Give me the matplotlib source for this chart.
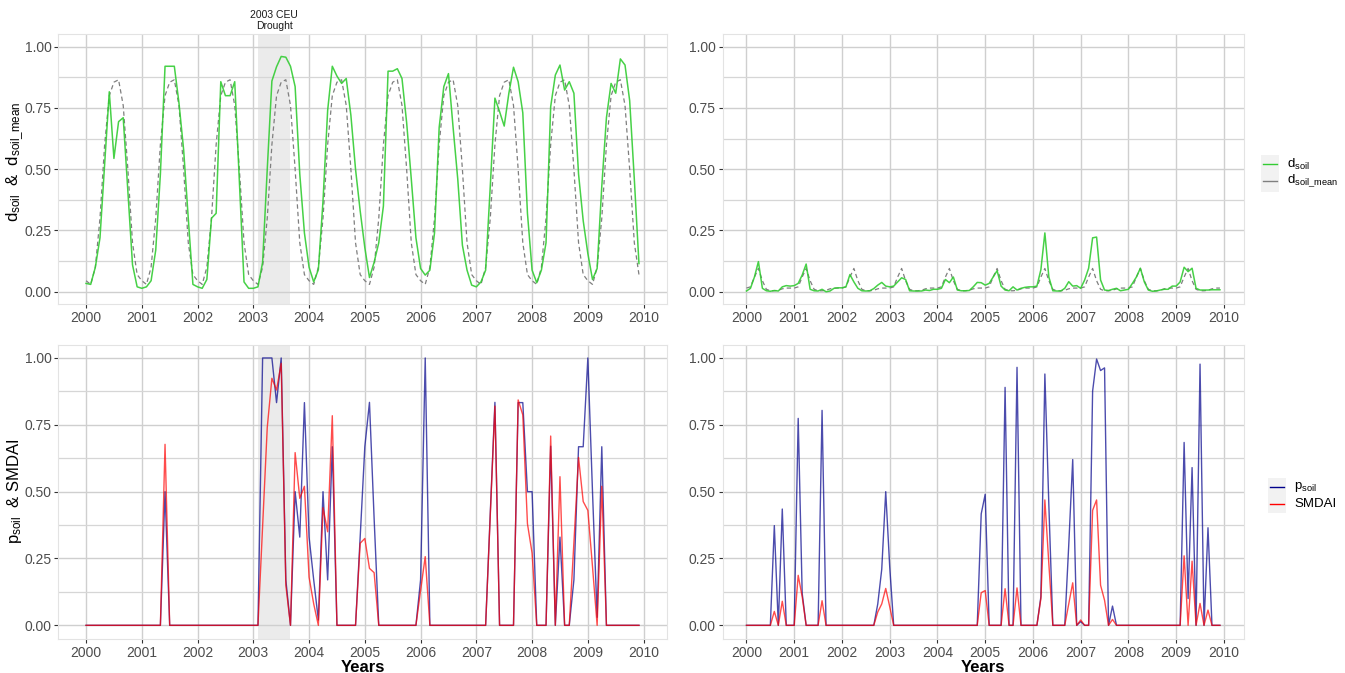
import numpy as np
import matplotlib
matplotlib.use('Agg')
import matplotlib.pyplot as plt
from matplotlib.lines import Line2D
from matplotlib.patches import Rectangle

plt.rcParams['font.family'] = ['Liberation Sans', 'DejaVu Sans']
plt.rcParams['mathtext.fontset'] = 'custom'
plt.rcParams['mathtext.rm'] = 'Liberation Sans'
plt.rcParams['mathtext.it'] = 'Liberation Sans:italic'

# ---- data: monthly values Jan 2000 .. Dec 2009 ----
year_ticks = list(range(2000, 2011))
drought_start, drought_end = 2003 + 1 / 12, 2003 + 8 / 12

# site 1 (left column)
d_soil_left = [
    0.034, 0.03, 0.10, 0.22, 0.52, 0.816, 0.544, 0.694, 0.71, 0.41, 0.11, 0.02,
    0.014, 0.02, 0.045, 0.17, 0.48, 0.92, 0.92, 0.92, 0.77, 0.58, 0.30, 0.03,
    0.02, 0.014, 0.05, 0.30, 0.32, 0.857, 0.80, 0.80, 0.857, 0.45, 0.04, 0.014,
    0.014, 0.02, 0.12, 0.50, 0.86, 0.918, 0.96, 0.957, 0.92, 0.837, 0.48, 0.24,
    0.10, 0.04, 0.09, 0.37, 0.74, 0.92, 0.88, 0.85, 0.87, 0.72, 0.50, 0.33,
    0.18, 0.058, 0.12, 0.20, 0.35, 0.90, 0.90, 0.91, 0.87, 0.69, 0.46, 0.22,
    0.095, 0.068, 0.088, 0.24, 0.67, 0.837, 0.89, 0.67, 0.46, 0.19, 0.088, 0.027,
    0.02, 0.04, 0.088, 0.43, 0.79, 0.735, 0.676, 0.81, 0.916, 0.857, 0.73, 0.32,
    0.088, 0.037, 0.088, 0.20, 0.755, 0.884, 0.925, 0.823, 0.857, 0.81, 0.48, 0.29,
    0.156, 0.05, 0.095, 0.43, 0.71, 0.85, 0.81, 0.95, 0.925, 0.78, 0.46, 0.115,
]
# monthly climatology (same every year)
d_soil_mean_left_month = [0.045, 0.03, 0.10, 0.30, 0.60, 0.80, 0.855, 0.865, 0.76, 0.50, 0.20, 0.07]

p_soil_left = [
    0, 0, 0, 0, 0, 0, 0, 0, 0, 0, 0, 0,
    0, 0, 0, 0, 0, 0.5, 0, 0, 0, 0, 0, 0,
    0, 0, 0, 0, 0, 0, 0, 0, 0, 0, 0, 0,
    0, 0, 1.0, 1.0, 1.0, 0.833, 1.0, 0.17, 0, 0.5, 0.33, 0.833,
    0.33, 0.17, 0.02, 0.5, 0.17, 0.668, 0, 0, 0, 0, 0, 0.33,
    0.668, 0.834, 0.4, 0, 0, 0, 0, 0, 0, 0, 0, 0,
    0.17, 1.0, 0, 0, 0, 0, 0, 0, 0, 0, 0, 0,
    0, 0, 0, 0.42, 0.834, 0, 0, 0, 0, 0.833, 0.833, 0.5,
    0.5, 0, 0, 0, 0.67, 0, 0.33, 0, 0, 0.17, 0.668, 0.668,
    1.0, 0.5, 0.03, 0.668, 0, 0, 0, 0, 0, 0, 0, 0,
]
smdai_left = [
    0, 0, 0, 0, 0, 0, 0, 0, 0, 0, 0, 0,
    0, 0, 0, 0, 0, 0.677, 0, 0, 0, 0, 0, 0,
    0, 0, 0, 0, 0, 0, 0, 0, 0, 0, 0, 0,
    0, 0, 0.37, 0.74, 0.924, 0.88, 0.98, 0.15, 0, 0.646, 0.475, 0.52,
    0.18, 0.08, 0, 0.44, 0.35, 0.784, 0, 0, 0, 0, 0, 0.307,
    0.325, 0.213, 0.197, 0, 0, 0, 0, 0, 0, 0, 0, 0,
    0.13, 0.257, 0, 0, 0, 0, 0, 0, 0, 0, 0, 0,
    0, 0, 0, 0.41, 0.82, 0, 0, 0, 0, 0.843, 0.787, 0.38,
    0.27, 0, 0, 0, 0.708, 0, 0.556, 0, 0, 0.31, 0.628, 0.463,
    0.43, 0.22, 0, 0.52, 0, 0, 0, 0, 0, 0, 0, 0,
]

# site 2 (right column)
d_soil_right = [
    0.003, 0.014, 0.06, 0.123, 0.014, 0.004, 0.002, 0.005, 0.003, 0.02, 0.025, 0.023,
    0.025, 0.034, 0.068, 0.113, 0.01, 0.004, 0.003, 0.01, 0.0, 0.003, 0.014, 0.016,
    0.016, 0.02, 0.07, 0.04, 0.014, 0.004, 0.003, 0.004, 0.013, 0.027, 0.038, 0.023,
    0.02, 0.023, 0.04, 0.057, 0.05, 0.004, 0.003, 0.003, 0.003, 0.007, 0.005, 0.01,
    0.01, 0.014, 0.05, 0.037, 0.06, 0.007, 0.004, 0.004, 0.005, 0.02, 0.038, 0.037,
    0.027, 0.034, 0.06, 0.086, 0.023, 0.007, 0.004, 0.02, 0.007, 0.014, 0.018, 0.02,
    0.02, 0.023, 0.09, 0.24, 0.06, 0.004, 0.003, 0.003, 0.014, 0.041, 0.023, 0.025,
    0.014, 0.048, 0.096, 0.22, 0.223, 0.048, 0.007, 0.005, 0.01, 0.014, 0.004, 0.007,
    0.01, 0.034, 0.06, 0.096, 0.04, 0.007, 0.002, 0.003, 0.007, 0.01, 0.01, 0.023,
    0.023, 0.04, 0.1, 0.082, 0.096, 0.014, 0.007, 0.007, 0.007, 0.008, 0.008, 0.008,
]
d_soil_mean_right_month = [0.015, 0.02, 0.06, 0.095, 0.045, 0.01, 0.004, 0.004, 0.006, 0.012, 0.015, 0.015]

p_soil_right = [
    0, 0, 0, 0, 0, 0, 0, 0.373, 0, 0.435, 0, 0,
    0, 0.774, 0.12, 0, 0, 0, 0, 0.804, 0, 0, 0, 0,
    0, 0, 0, 0, 0, 0, 0, 0, 0, 0.08, 0.21, 0.5,
    0.22, 0, 0, 0, 0, 0, 0, 0, 0, 0, 0, 0,
    0, 0, 0, 0, 0, 0, 0, 0, 0, 0, 0, 0.417,
    0.49, 0, 0, 0, 0, 0.89, 0, 0, 0.965, 0, 0, 0,
    0, 0, 0.107, 0.94, 0.45, 0, 0, 0, 0, 0.3, 0.62, 0,
    0.014, 0, 0, 0.876, 0.996, 0.953, 0.963, 0, 0.072, 0, 0, 0,
    0, 0, 0, 0, 0, 0, 0, 0, 0, 0, 0, 0,
    0, 0, 0.684, 0.1, 0.59, 0, 0.977, 0, 0.365, 0, 0, 0,
]
smdai_right = [
    0, 0, 0, 0, 0, 0, 0, 0.052, 0, 0.09, 0, 0,
    0, 0.187, 0.107, 0, 0, 0, 0, 0.092, 0, 0, 0, 0,
    0, 0, 0, 0, 0, 0, 0, 0, 0, 0.05, 0.08, 0.138,
    0.07, 0, 0, 0, 0, 0, 0, 0, 0, 0, 0, 0,
    0, 0, 0, 0, 0, 0, 0, 0, 0, 0, 0, 0.122,
    0.13, 0, 0, 0, 0, 0.137, 0, 0, 0.14, 0, 0, 0,
    0, 0, 0.1, 0.469, 0.23, 0, 0, 0, 0, 0.08, 0.159, 0,
    0.02, 0, 0, 0.43, 0.469, 0.15, 0.094, 0, 0.022, 0, 0, 0,
    0, 0, 0, 0, 0, 0, 0, 0, 0, 0, 0, 0,
    0, 0, 0.26, 0, 0.24, 0, 0.082, 0, 0.057, 0, 0, 0,
]

t = 2000 + np.arange(len(d_soil_left)) / 12
n_years = len(t) // 12
d_soil_mean_left = np.tile(d_soil_mean_left_month, n_years)
d_soil_mean_right = np.tile(d_soil_mean_right_month, n_years)

GREEN = '#33CC33'
GREY = '#7F7F7F'
BLUE = '#00008B'
RED = '#FF0000'

W, H = 1345, 673
fig = plt.figure(figsize=(W / 100, H / 100), dpi=100)


def px_rect(left, top, right, bottom):
    return [left / W, 1 - bottom / H, (right - left) / W, (bottom - top) / H]


def style_axis(ax):
    span = t[-1] - t[0]
    ax.set_xlim(t[0] - 0.05 * span, t[-1] + 0.05 * span)
    ax.set_ylim(-0.05, 1.05)
    ax.set_xticks(year_ticks)
    ax.set_yticks([0, 0.25, 0.5, 0.75, 1.0])
    ax.set_yticklabels(['0.00', '0.25', '0.50', '0.75', '1.00'])
    ax.set_yticks([0.125, 0.375, 0.625, 0.875], minor=True)
    ax.set_axisbelow(True)
    ax.grid(which='major', color='#CFCFCF', linewidth=1.0)
    ax.grid(which='minor', axis='y', color='#D6D6D6', linewidth=0.9)
    ax.tick_params(which='major', length=3, width=0.8, color='#333333',
                   labelsize=10, labelcolor='#4D4D4D', pad=2)
    ax.tick_params(which='minor', length=0)
    for s in ax.spines.values():
        s.set_color('#E3E3E3')
        s.set_linewidth(0.8)


ax_tl = fig.add_axes(px_rect(58.4, 34.4, 666.6, 304.0))
ax_tr = fig.add_axes(px_rect(722.8, 34.4, 1243.6, 304.0))
ax_bl = fig.add_axes(px_rect(58.4, 344.6, 666.6, 638.7))
ax_br = fig.add_axes(px_rect(722.8, 344.6, 1243.6, 638.7))

for ax in (ax_tl, ax_tr, ax_bl, ax_br):
    style_axis(ax)

# drought shading on the left column
for ax in (ax_tl, ax_bl):
    ax.axvspan(drought_start, drought_end, color='#EBEBEB', zorder=0.4, linewidth=0)

ax_tl.text((drought_start + drought_end) / 2, 1.065, '2003 CEU\nDrought',
           ha='center', va='bottom', fontsize=7.5, color='#1A1A1A', linespacing=1.05)

# top row: d_soil and its monthly mean
ax_tl.plot(t, d_soil_mean_left, color=GREY, linewidth=0.9, dashes=(3.5, 2.5))
ax_tl.plot(t, d_soil_left, color=GREEN, linewidth=1.1, alpha=0.9)
ax_tr.plot(t, d_soil_mean_right, color=GREY, linewidth=0.9, dashes=(3.5, 2.5))
ax_tr.plot(t, d_soil_right, color=GREEN, linewidth=1.1, alpha=0.9)

# bottom row: p_soil and SMDAI
ax_bl.plot(t, p_soil_left, color=BLUE, linewidth=1.0, alpha=0.7)
ax_bl.plot(t, smdai_left, color=RED, linewidth=1.0, alpha=0.7)
ax_br.plot(t, p_soil_right, color=BLUE, linewidth=1.0, alpha=0.7)
ax_br.plot(t, smdai_right, color=RED, linewidth=1.0, alpha=0.7)

for ax in (ax_bl, ax_br):
    ax.set_xlabel('Years', fontsize=12, fontweight='bold', labelpad=0)

# y axis titles
fig.text(15 / W, 1 - 162 / H, r'$\mathrm{d_{soil}}$  &  $\mathrm{d_{soil\_mean}}$',
         rotation=90, ha='center', va='center', fontsize=12)
fig.text(15 / W, 1 - 491 / H, r'$\mathrm{p_{soil}}$  & SMDAI',
         rotation=90, ha='center', va='center', fontsize=12)


# legends drawn in figure pixel space (ggplot-like keys)
def legend(x0, y_top, y_bot, entries):
    fig.add_artist(Rectangle((x0 / W, 1 - y_bot / H), 18 / W, (y_bot - y_top) / H,
                             transform=fig.transFigure, facecolor='#F2F2F2',
                             edgecolor='none'))
    for (label, color, yy) in entries:
        fig.add_artist(Line2D([(x0 + 2) / W, (x0 + 16) / W], [1 - yy / H, 1 - yy / H],
                              transform=fig.transFigure, color=color, linewidth=1.0))
        fig.text((x0 + 26) / W, 1 - yy / H, label, ha='left', va='center', fontsize=9.5)


legend(1261, 155, 192, [(r'$\mathrm{d_{soil}}$', GREEN, 164),
                        (r'$\mathrm{d_{soil\_mean}}$', GREY, 181)])
legend(1268, 478, 513, [(r'$\mathrm{p_{soil}}$', BLUE, 487),
                        ('SMDAI', RED, 504)])

fig.savefig('out.png', dpi=100, facecolor='white')
